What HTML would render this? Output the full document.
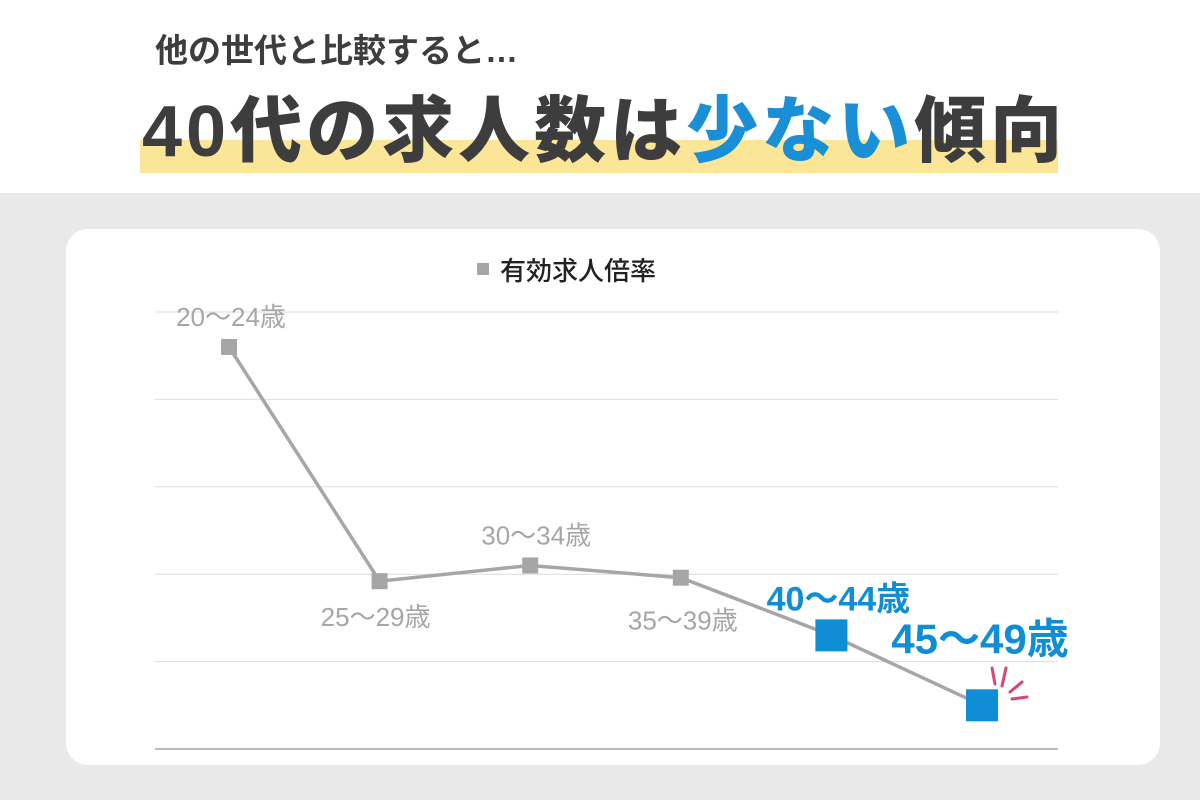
<!DOCTYPE html>
<html><head><meta charset="utf-8"><style>
body{margin:0;width:1200px;height:800px;overflow:hidden;background:#fff;font-family:"Liberation Sans","Noto Sans CJK JP",sans-serif;}
#top{position:absolute;left:0;top:0;width:1200px;height:193px;background:#fff;}
#bottom{position:absolute;left:0;top:193px;width:1200px;height:607px;background:#e9e9e9;}
#sub{position:absolute;left:155px;top:24px;font-size:33px;font-weight:bold;color:#3d3d3d;white-space:nowrap;}
#hl{position:absolute;left:140px;top:140px;width:918px;height:33px;background:#fbe597;}
#main{position:absolute;left:142px;top:72px;font-size:72px;font-weight:900;color:#3d3d3d;white-space:nowrap;letter-spacing:4px;}
#main .b{color:#1a8fd6;}
#card{position:absolute;left:66px;top:229px;width:1094px;height:536px;background:#fff;border-radius:22px;}
svg{position:absolute;left:0;top:0;}
</style></head><body>
<div id="top"></div>
<div id="bottom"></div>
<div id="sub">他の世代と比較すると…</div>
<div id="hl"></div>
<div id="main">40代の求人数は<span class="b">少ない</span>傾向</div>
<div id="card"></div>
<svg id="chart" width="1200" height="800"></svg>
<script>
const categories=["20〜24歳","25〜29歳","30〜34歳","35〜39歳","40〜44歳","45〜49歳"];
const values=[2.3,0.96,1.05,0.98,0.65,0.25];
const yTicks=[0,0.5,1,1.5,2,2.5];
const highlighted=[false,false,false,false,true,true];
const NS="http://www.w3.org/2000/svg";
const svg=document.getElementById("chart");
const x0=155,x1=1058,yBase=749,yTop=312,yMax=2.5;
const y=v=>yBase-(v/yMax)*(yBase-yTop);
const x=i=>229+i*(982-229)/(categories.length-1);
function mk(t,a){const e=document.createElementNS(NS,t);for(const k in a)e.setAttribute(k,a[k]);svg.appendChild(e);return e;}
yTicks.forEach((t,i)=>{const l=mk("line",{x1:x0,x2:x1,y1:y(t),y2:y(t),stroke:i==0?"#bbb":"#dcdcdc","stroke-width":i==0?2:1});

});
const lg=mk("rect",{x:477,y:263,width:12,height:12,fill:"#a6a6a6"});


const lt=mk("text",{x:500,y:280,"font-size":26,fill:"#222","font-weight":"500"});lt.textContent="有効求人倍率";


const pl=mk("polyline",{points:values.map((v,i)=>x(i)+","+y(v)).join(" "),fill:"none",stroke:"#a6a6a6","stroke-width":3.5});


const lblOff=[[2,-21],[-4,45],[6,-21],[2,52],[7,-25],[-2,-52]];
values.forEach((v,i)=>{
 const s=highlighted[i]?32:16;
 const r=mk("rect",{x:x(i)-s/2,y:y(v)-s/2,width:s,height:s,fill:highlighted[i]?"#0f8ed6":"#a6a6a6"});
 
 
 const t=mk("text",{x:x(i)+lblOff[i][0],y:y(v)+lblOff[i][1],"text-anchor":"middle","font-size":highlighted[i]?(i==5?42:34):26,"font-weight":highlighted[i]?"bold":"normal",fill:highlighted[i]?"#0f8ed6":"#a6a6a6"});
 t.textContent=categories[i];
 
 
});
[[992,668,995,684],[1006,668,1002,686],[1022,682,1010,692],[1027,697,1012,699]].forEach(a=>{
 const l=mk("line",{x1:a[0],y1:a[1],x2:a[2],y2:a[3],stroke:"#d9457a","stroke-width":3,"stroke-linecap":"round"});
 
 
});
</script>
</body></html>
